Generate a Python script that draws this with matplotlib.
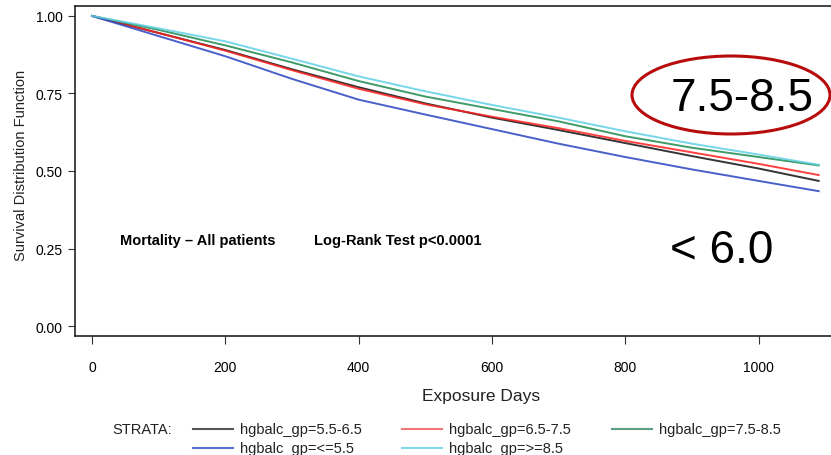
import matplotlib
matplotlib.use("Agg")
import matplotlib.pyplot as plt
from matplotlib.patches import Ellipse
from matplotlib.lines import Line2D

plt.rcParams['font.family'] = ['Liberation Sans', 'DejaVu Sans']

# survival estimates at these exposure days
days = [0, 100, 200, 300, 400, 500, 600, 700, 800, 900, 1000, 1090]
surv_55_65 = [1.0, 0.945, 0.890, 0.828, 0.770, 0.718, 0.672, 0.632, 0.590, 0.548, 0.508, 0.468]
surv_65_75 = [1.0, 0.945, 0.888, 0.825, 0.765, 0.715, 0.675, 0.638, 0.597, 0.560, 0.523, 0.487]
surv_75_85 = [1.0, 0.955, 0.905, 0.850, 0.790, 0.740, 0.700, 0.660, 0.612, 0.575, 0.545, 0.518]
surv_le55 = [1.0, 0.935, 0.870, 0.797, 0.730, 0.682, 0.635, 0.588, 0.545, 0.505, 0.468, 0.435]
surv_ge85 = [1.0, 0.960, 0.918, 0.862, 0.805, 0.757, 0.713, 0.672, 0.628, 0.588, 0.553, 0.520]

labels = ["hgbalc_gp=5.5-6.5", "hgbalc_gp=6.5-7.5", "hgbalc_gp=7.5-8.5",
          "hgbalc_gp=<=5.5", "hgbalc_gp=>=8.5"]
series = [surv_55_65, surv_65_75, surv_75_85, surv_le55, surv_ge85]
colors = ["#111111", "#ff2020", "#1e8a50", "#2a44c0", "#5fd0e6"]
legend_colors = ["#555555", "#f07878", "#5aa080", "#5870d0", "#80d8ea"]

W, H = 831, 456
fig = plt.figure(figsize=(W / 100, H / 100), dpi=100)
ax = fig.add_axes([75 / W, 1 - 337 / H, 0.915, 330 / H])

for ys, c in zip(series, colors):
    ax.plot(days, ys, color=c, lw=1.4, alpha=0.85)

ax.set_xlim(-25.5, 1115)
ax.set_ylim(-0.032, 1.032)
ax.set_xticks([0, 200, 400, 600, 800, 1000])
ax.set_yticks([0, 0.25, 0.5, 0.75, 1.0])
ax.set_yticklabels(["0.00", "0.25", "0.50", "0.75", "1.00"])
ax.tick_params(axis='x', direction='out', length=6, pad=11, labelsize=10, color='#333333')
ax.tick_params(axis='y', direction='out', length=5, pad=4, labelsize=10, color='#333333')
ax.spines['right'].set_visible(False)
for s in ax.spines.values():
    s.set_linewidth(1.2)
    s.set_color('#222222')

ax.set_ylabel("Survival Distribution Function", fontsize=10.5, color='#222222')
ax.yaxis.set_label_coords(-0.062, 0.52)
fig.text(481 / W, 1 - 397 / H, "Exposure Days", fontsize=12.5, ha='center', va='center',
         color='#222222')

ax.text(42, 0.277, "Mortality \u2013 All patients", fontsize=10.5, fontweight='bold',
        va='center', ha='left')
ax.text(333, 0.277, "Log-Rank Test p<0.0001", fontsize=10.5, fontweight='bold',
        va='center', ha='left')

# callouts
fig.text(742 / W, 1 - 99 / H, "7.5-8.5", fontsize=33, ha='center', va='center')
fig.add_artist(Ellipse((731 / W, 1 - 96 / H), 198 / W, 78 / H, transform=fig.transFigure,
                       fill=False, edgecolor='#b80c0c', lw=2.2))
fig.text(722 / W, 1 - 251 / H, "< 6.0", fontsize=33, ha='center', va='center')

# legend, laid out like the SAS output
fig.text(112 / W, 1 - 430 / H, "STRATA:", fontsize=10.5, va='center', color='#222222')
slots = [(193, 430), (402, 430), (612, 430), (193, 449), (402, 449)]
for (px, py), lab, lc in zip(slots, labels, legend_colors):
    fig.add_artist(Line2D([px / W, (px + 40) / W], [1 - py / H, 1 - py / H],
                          transform=fig.transFigure, color=lc, lw=1.5))
    fig.text((px + 47) / W, 1 - py / H, lab, fontsize=10.5, va='center', color='#222222')

fig.savefig("out.png", dpi=100)
